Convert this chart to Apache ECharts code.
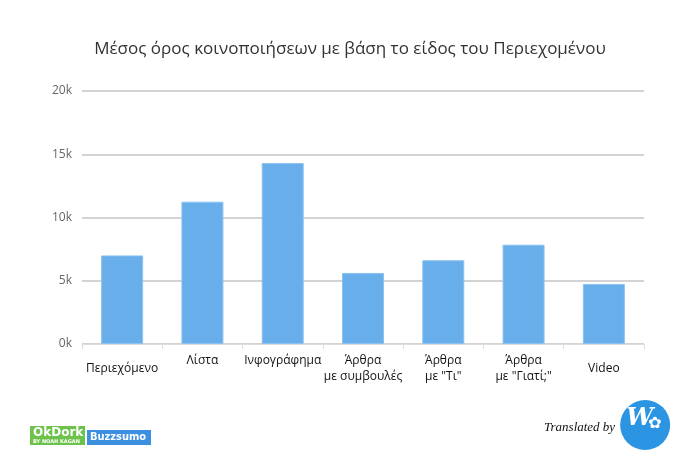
<!DOCTYPE html>
<html>
<head>
<meta charset="utf-8">
<script src="https://cdn.jsdelivr.net/npm/echarts@6/dist/echarts.min.js"></script>
<style>
  html, body { margin: 0; padding: 0; background: #fff; }
  #chart { width: 700px; height: 467px; }
</style>
</head>
<body>
<div id="chart"></div>
<script>
const categories = [
  'Περιεχόμενο',
  'Λίστα',
  'Ινφογράφημα',
  'Άρθρα\nμε συμβουλές',
  'Άρθρα\nμε "Τι"',
  'Άρθρα\nμε "Γιατί;"',
  'Video',
];
// single-line labels that sit centred on the two-line block
const centredLabels = ['Περιεχόμενο', 'Video'];
const shares = [7000, 11250, 14300, 5620, 6620, 7850, 4750];
const yTicks = [0, 5000, 10000, 15000, 20000];

const chart = echarts.init(document.getElementById('chart'));

const labelFont = '"Open Sans", "DejaVu Sans", sans-serif';

chart.setOption({
  animation: false,
  title: {
    text: 'Μέσος όρος κοινοποιήσεων με βάση το είδος του Περιεχομένου',
    left: 'center',
    top: 36,
    textStyle: {
      color: '#333',
      fontSize: 17,
      fontWeight: 'normal',
      fontFamily: '"Open Sans", sans-serif',
    },
  },
  grid: { left: 82, right: 56, top: 91, bottom: 123 },
  xAxis: {
    type: 'category',
    data: categories.map((c) => ({
      value: c,
      textStyle: { lineHeight: centredLabels.includes(c) ? 32 : 16 },
    })),
    axisLine: { lineStyle: { color: '#ddd', width: 1 } },
    axisTick: { show: true, length: 5, lineStyle: { color: '#ddd' } },
    axisLabel: {
      interval: 0,
      margin: 9,
      color: '#111',
      fontSize: 12,
      fontFamily: labelFont,
      lineHeight: 16,
    },
  },
  yAxis: {
    type: 'value',
    min: yTicks[0],
    max: yTicks[yTicks.length - 1],
    interval: yTicks[1] - yTicks[0],
    axisLine: { show: false },
    axisTick: { show: false },
    splitLine: { lineStyle: { color: '#d3d3d3', width: 2 } },
    axisLabel: {
      margin: 10,
      color: '#666',
      fontSize: 12,
      fontFamily: labelFont,
      formatter: (v) => v / 1000 + 'k',
    },
  },
  series: [
    {
      type: 'bar',
      data: shares,
      barWidth: 42,
      itemStyle: { color: '#68aeea', borderColor: '#8cc2f0', borderWidth: 1 },
    },
  ],
  graphic: [
    // source logos, bottom-left
    {
      type: 'group', left: 30, top: 426,
      children: [
        { type: 'rect', shape: { x: 0, y: 0, width: 55, height: 19 }, style: { fill: '#6cc24a' } },
        { type: 'text', style: { x: 3, y: 1, text: 'OkDork', fill: '#fff', font: 'bold 12px "DejaVu Sans"' } },
        { type: 'text', style: { x: 3, y: 13, text: 'BY NOAH KAGAN', fill: '#fff', font: 'bold 5px "DejaVu Sans"' } },
      ],
    },
    {
      type: 'group', left: 87, top: 430,
      children: [
        { type: 'rect', shape: { x: 0, y: 0, width: 64, height: 15 }, style: { fill: '#3d8fe0' } },
        { type: 'text', style: { x: 3, y: 2, text: 'Buzzsumo', fill: '#fff', font: 'bold 11px "DejaVu Sans Condensed"' } },
      ],
    },
    // translator credit, bottom-right
    {
      type: 'group', left: 544, top: 400,
      children: [
        {
          type: 'text',
          style: {
            x: 68, y: 28, text: 'Translated by', fill: '#111',
            align: 'right', verticalAlign: 'middle',
            font: 'italic 13px "Liberation Serif", serif',
          },
        },
        { type: 'circle', shape: { cx: 98, cy: 25, r: 25 }, style: { fill: '#2b95e3' } },
        { type: 'text', style: { x: 79, y: 7, text: 'W', fill: '#fff', font: 'bold italic 24px "DejaVu Serif"' } },
        { type: 'text', style: { x: 101, y: 16, text: '✿', fill: '#fff', font: '16px "DejaVu Sans"' } },
      ],
    },
  ],
});
</script>
</body>
</html>
